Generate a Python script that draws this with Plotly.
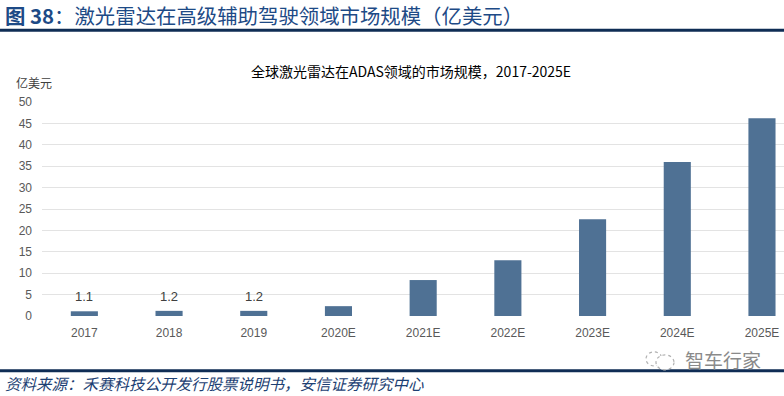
import plotly.graph_objects as go

categories = ["2017", "2018", "2019", "2020E", "2021E", "2022E", "2023E", "2024E", "2025E"]
values = [1.1, 1.2, 1.2, 2.3, 8.4, 13.0, 22.6, 36.0, 46.2]
value_labels = ["1.1", "1.2", "1.2", "", "", "", "", "", ""]
y_ticks = [0, 5, 10, 15, 20, 25, 30, 35, 40, 45, 50]

W, H = 784, 396
L, R = 42, 784
T, B = 101.5, 316

def px(x):
    return (x - L) / (R - L)

def py(y):
    return (B - y) / (B - T)

fig = go.Figure()
fig.add_trace(go.Bar(
    x=categories, y=values,
    marker=dict(color="#4f7194", line=dict(width=0)),
    width=0.32,
    hoverinfo="x+y",
))

for i, (v, t) in enumerate(zip(values, value_labels)):
    if t:
        fig.add_annotation(x=i, y=v, text=t, showarrow=False, yanchor="bottom",
                           yshift=5, font=dict(family="Liberation Sans, Arial", size=13, color="#404040"))

CJK = "Noto Sans CJK SC"
NAVY = "#0f2d55"

# header
fig.add_annotation(xref="paper", yref="paper", x=px(3), y=py(14), xanchor="left", yanchor="middle",
                   text="<b>图 38</b>：激光雷达在高级辅助驾驶领域市场规模（亿美元）",
                   showarrow=False, font=dict(family=CJK, size=20.4, color="#1d4a86"))
# chart title
fig.add_annotation(xref="paper", yref="paper", x=px(411), y=py(70), xanchor="center", yanchor="middle",
                   text="全球激光雷达在ADAS领域的市场规模，2017-2025E",
                   showarrow=False, font=dict(family=CJK, size=14, color="#000000"))
# unit
fig.add_annotation(xref="paper", yref="paper", x=px(14), y=py(82), xanchor="left", yanchor="middle",
                   text="亿美元", showarrow=False, font=dict(family=CJK, size=12, color="#404040"))
# source
fig.add_annotation(xref="paper", yref="paper", x=px(3), y=py(383), xanchor="left", yanchor="middle",
                   text="<i>资料来源：禾赛科技公开发行股票说明书，安信证券研究中心</i>",
                   showarrow=False, font=dict(family=CJK, size=15.5, color="#1d3f73"))
# watermark
fig.add_annotation(xref="paper", yref="paper", x=px(683), y=py(360), xanchor="left", yanchor="middle",
                   text="智车行家", showarrow=False, font=dict(family=CJK, size=19, color="#8a8a8a"))

shapes = [
    dict(type="line", xref="paper", yref="paper", x0=px(0), x1=px(784), y0=py(29.5), y1=py(29.5),
         line=dict(color=NAVY, width=3)),
    dict(type="line", xref="paper", yref="paper", x0=px(0), x1=px(784), y0=py(371), y1=py(371),
         line=dict(color=NAVY, width=3)),
    dict(type="circle", xref="paper", yref="paper", x0=px(646), x1=px(662), y0=py(366), y1=py(352),
         line=dict(color="#b0b0b0", width=1.2, dash="dot")),
    dict(type="circle", xref="paper", yref="paper", x0=px(656), x1=px(674), y0=py(370), y1=py(355),
         line=dict(color="#b0b0b0", width=1.2, dash="dot"), fillcolor="white"),
]

fig.update_layout(
    width=W, height=H,
    margin=dict(l=L, r=W - R, t=T, b=H - B, pad=0),
    paper_bgcolor="white", plot_bgcolor="white",
    showlegend=False,
    shapes=shapes,
    xaxis=dict(type="category", range=[-0.5, 8.26], showgrid=False, zeroline=False, showline=False, ticks="",
               ticklabelstandoff=8,
               tickfont=dict(family="Liberation Sans, Arial", size=12, color="#595959"),
               fixedrange=True),
    yaxis=dict(range=[0, 50], tickvals=y_ticks, showgrid=True, gridcolor="#e3e3e3", gridwidth=1,
               zeroline=False, showline=False, ticks="", ticklabelstandoff=9,
               tickfont=dict(family="Liberation Sans, Arial", size=12, color="#595959"),
               fixedrange=True),
    bargap=0.68,
)

fig.write_html("out.html", config={"displayModeBar": False},
               post_script="document.body.style.margin='0';document.body.style.padding='0';")
